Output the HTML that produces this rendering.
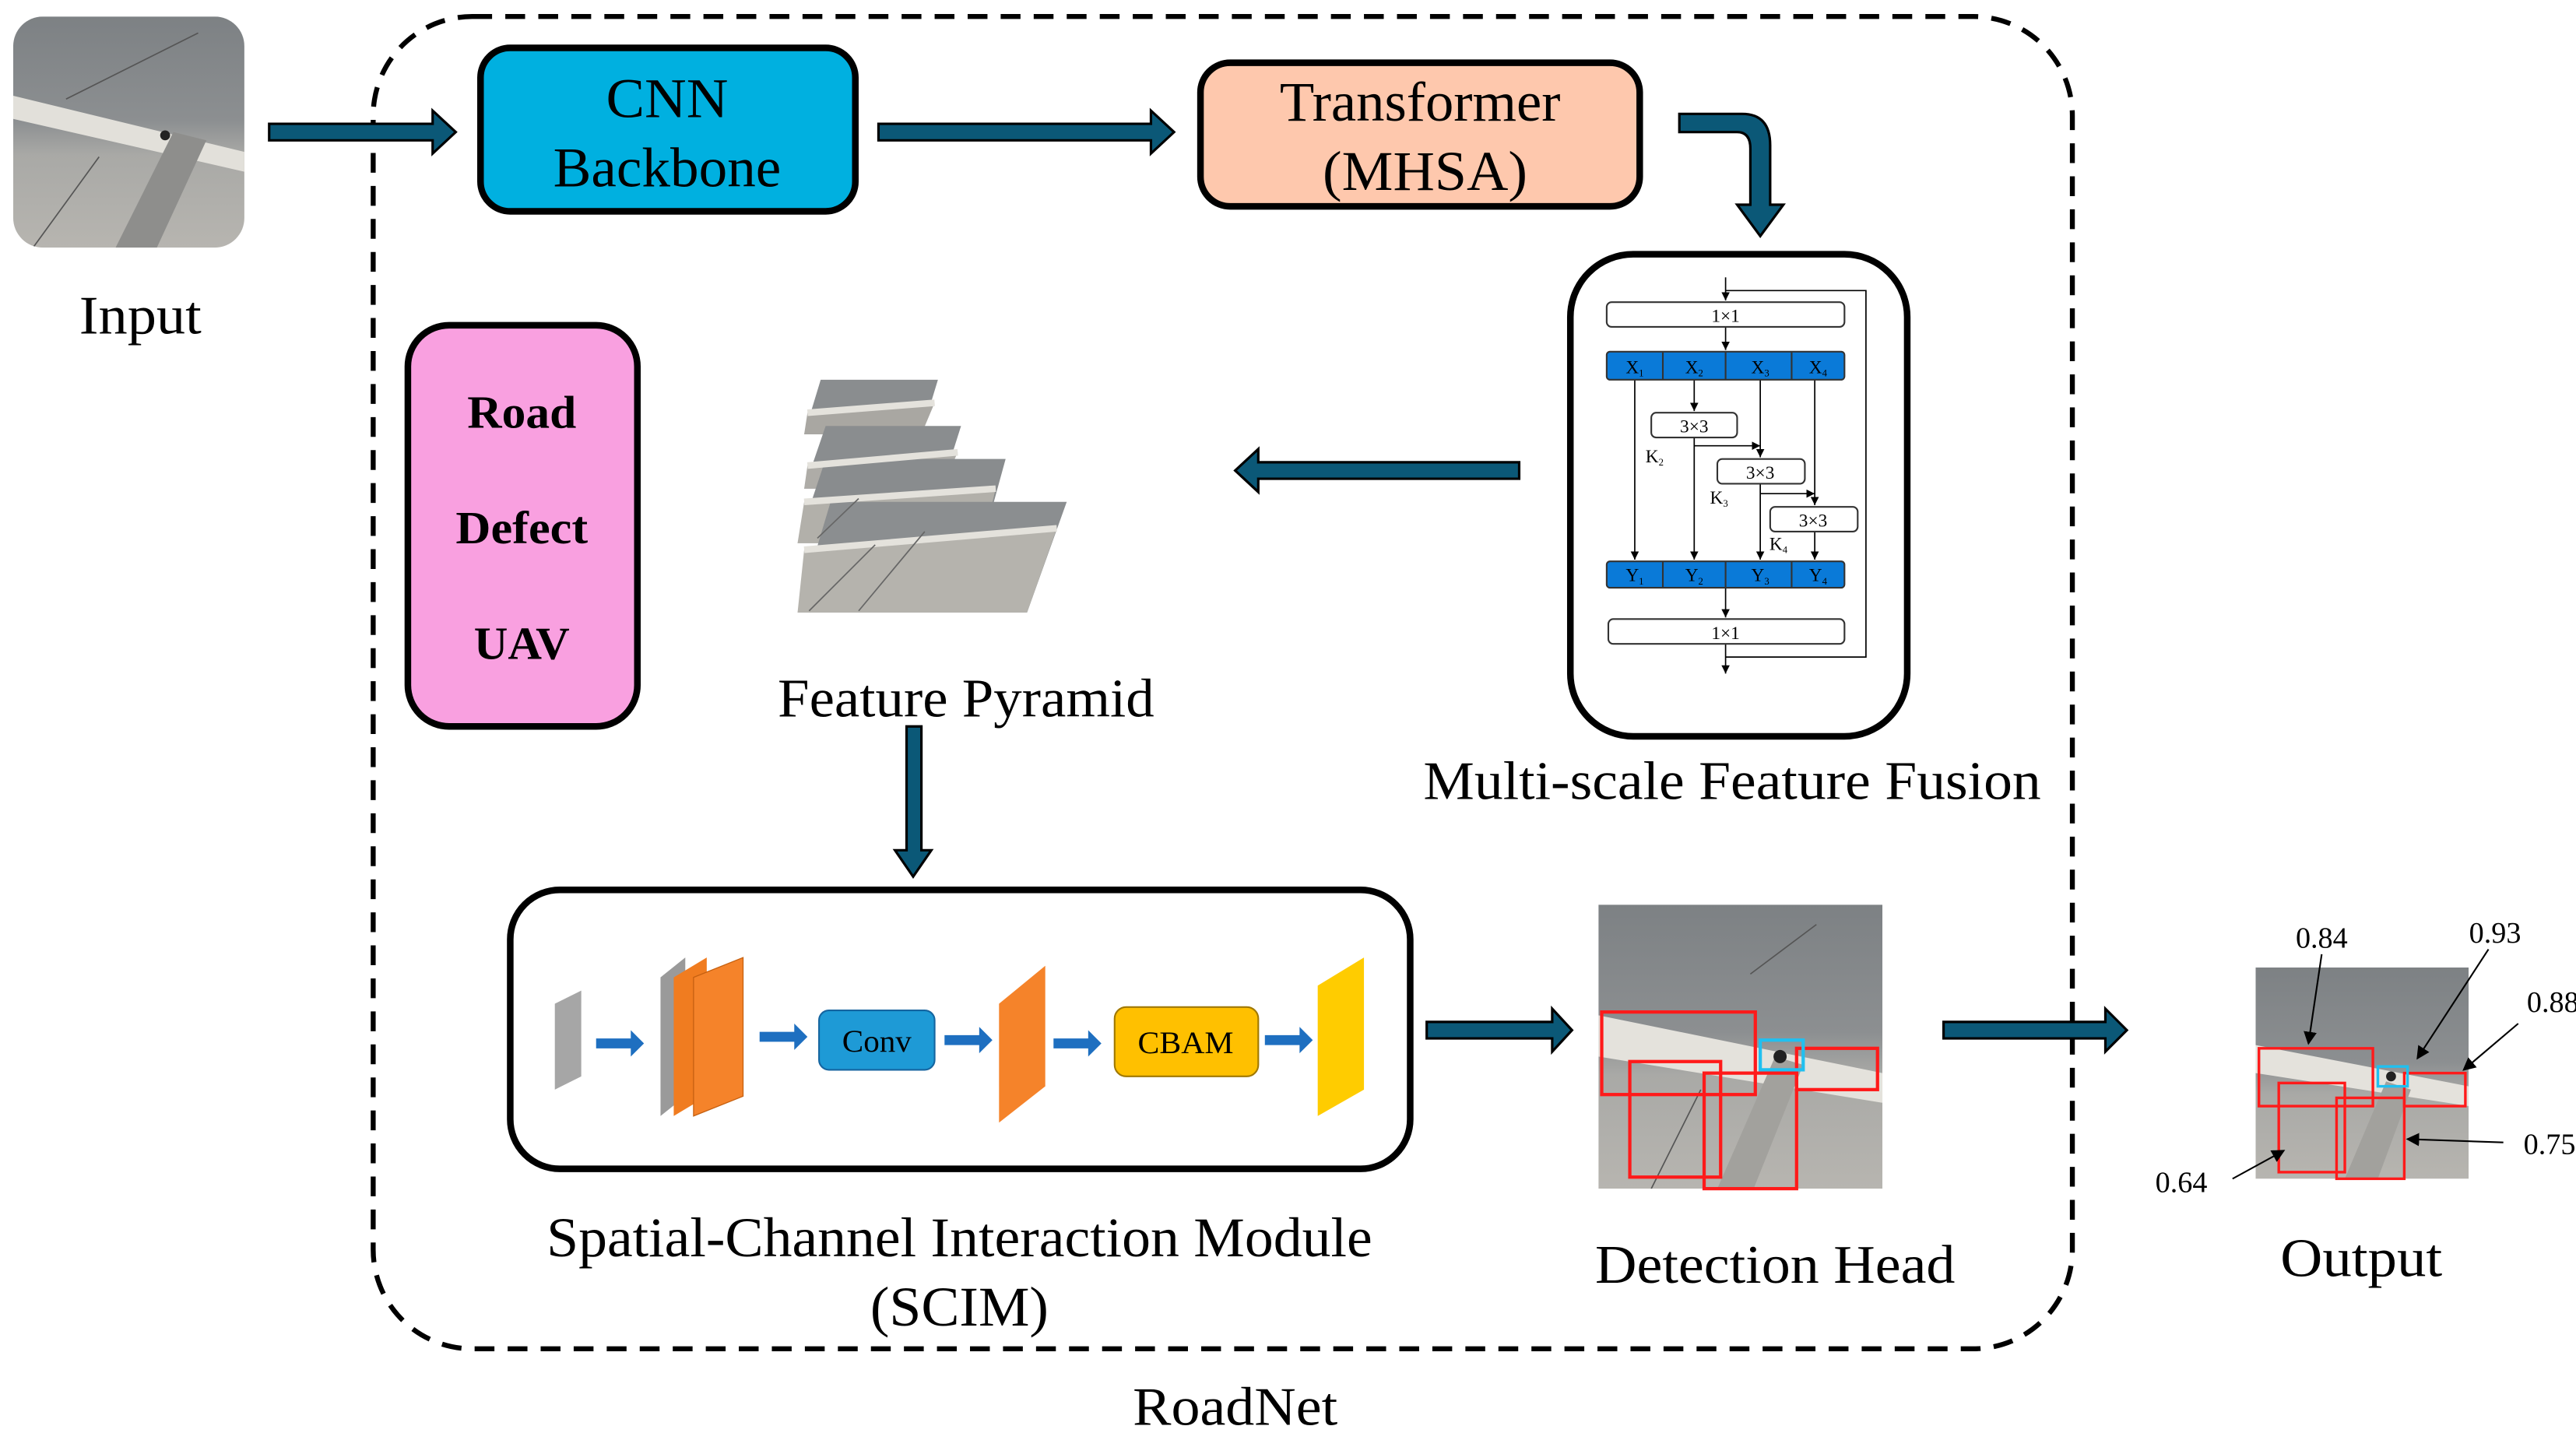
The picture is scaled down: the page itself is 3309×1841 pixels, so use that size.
<!DOCTYPE html>
<html><head><meta charset="utf-8"><style>
html,body{margin:0;padding:0;background:#fff;}
svg{display:block;}
text{font-family:"Liberation Serif",serif;fill:#000;}
</style></head><body>
<svg width="3309" height="1841" viewBox="0 0 1560 868" preserveAspectRatio="none" xmlns="http://www.w3.org/2000/svg">
<defs>
<linearGradient id="road" x1="0" y1="0" x2="0" y2="1">
<stop offset="0" stop-color="#7d8184"/><stop offset="0.45" stop-color="#8c8f91"/><stop offset="0.6" stop-color="#a9a9a6"/><stop offset="1" stop-color="#b7b5b0"/>
</linearGradient>
<clipPath id="cin"><rect x="8" y="10" width="140" height="140" rx="18"/></clipPath>
<clipPath id="cdet"><rect x="968" y="548" width="172" height="172"/></clipPath>
<clipPath id="cout"><rect x="1366" y="586" width="129" height="128"/></clipPath>
<marker id="ah" markerWidth="8" markerHeight="8" refX="7" refY="4" orient="auto" markerUnits="userSpaceOnUse"><path d="M0,0 L8,4 L0,8 z" fill="#000"/></marker>
<marker id="sa" markerWidth="5" markerHeight="5" refX="5" refY="2.5" orient="auto" markerUnits="userSpaceOnUse"><path d="M0,0 L5,2.5 L0,5 z" fill="#000"/></marker>
</defs>

<rect x="226" y="10" width="1029" height="807" rx="60" fill="none" stroke="#000" stroke-width="3" stroke-dasharray="12 8"/>

<g clip-path="url(#cin)">
<rect x="8" y="10" width="140" height="140" fill="url(#road)"/>
<polygon points="8,58 148,92 148,104 8,72" fill="#e2e0da"/>
<polygon points="70,150 105,80 125,85 95,150" fill="#8e8e8c"/>
<path d="M20,150 L60,95 M40,60 L120,20" stroke="#555" stroke-width="0.8" fill="none"/>
<circle cx="100" cy="82" r="3" fill="#222"/>
</g>
<text x="85" y="202" font-size="33" text-anchor="middle" textLength="74" lengthAdjust="spacingAndGlyphs">Input</text>

<g fill="#0b5877" stroke="#000" stroke-width="1.5">
<polygon points="163,75 262,75 262,67 276,80 262,93 262,85 163,85"/>
<polygon points="532,75 697,75 697,67 711,80 697,93 697,85 532,85"/>
<path d="M1017,69 L1055,69 Q1072,69 1072,88 L1072,124 L1080,124 L1066,143 L1052,124 L1060,124 L1060,90 Q1060,80 1052,80 L1017,80 z"/>
<polygon points="920,280 762,280 762,272 748,285 762,298 762,290 920,290"/>
<polygon points="549,440 558,440 558,515 564,515 553,531 542,515 549,515"/>
<polygon points="864,619 940,619 940,611 952,624 940,637 940,629 864,629"/>
<polygon points="1177,619 1275,619 1275,611 1288,624 1275,637 1275,629 1177,629"/>
</g>

<rect x="291" y="29" width="227" height="99" rx="18" fill="#00b0e0" stroke="#000" stroke-width="4"/>
<text x="404" y="71" font-size="34" text-anchor="middle" textLength="74" lengthAdjust="spacingAndGlyphs">CNN</text>
<text x="404" y="113" font-size="34" text-anchor="middle" textLength="138" lengthAdjust="spacingAndGlyphs">Backbone</text>

<rect x="727" y="38" width="266" height="87" rx="18" fill="#fec8ad" stroke="#000" stroke-width="4"/>
<text x="860" y="73" font-size="34" text-anchor="middle" textLength="170" lengthAdjust="spacingAndGlyphs">Transformer</text>
<text x="863" y="115" font-size="34" text-anchor="middle" textLength="124" lengthAdjust="spacingAndGlyphs">(MHSA)</text>

<rect x="951" y="154" width="204" height="292" rx="38" fill="#fff" stroke="#000" stroke-width="4"/>
<g stroke="#000" stroke-width="0.8" fill="none">
<path d="M1045,168 L1045,182" marker-end="url(#sa)"/>
<path d="M1045,176 L1130,176 L1130,398 L1045,398"/>
<path d="M1045,198 L1045,212" marker-end="url(#sa)"/>
<path d="M990,230 L990,339" marker-end="url(#sa)"/>
<path d="M1026,230 L1026,249" marker-end="url(#sa)"/>
<path d="M1026,265 L1026,339" marker-end="url(#sa)"/>
<path d="M1026,270 L1066,270" marker-end="url(#sa)"/>
<path d="M1066,230 L1066,277" marker-end="url(#sa)"/>
<path d="M1066,293 L1066,339" marker-end="url(#sa)"/>
<path d="M1066,299 L1099,299" marker-end="url(#sa)"/>
<path d="M1099,230 L1099,306" marker-end="url(#sa)"/>
<path d="M1099,322 L1099,339" marker-end="url(#sa)"/>
<path d="M1045,356 L1045,374" marker-end="url(#sa)"/>
<path d="M1045,390 L1045,408" marker-end="url(#sa)"/>
</g>
<g stroke="#333" stroke-width="1">
<rect x="973" y="183" width="144" height="15" rx="3" fill="#fff"/>
<rect x="973" y="213" width="144" height="17" rx="2" fill="#0a7ad8"/>
<rect x="1000" y="250" width="52" height="15" rx="3" fill="#fff"/>
<rect x="1040" y="278" width="53" height="15" rx="3" fill="#fff"/>
<rect x="1072" y="307" width="53" height="15" rx="3" fill="#fff"/>
<rect x="973" y="340" width="144" height="16" rx="2" fill="#0a7ad8"/>
<rect x="974" y="375" width="143" height="15" rx="3" fill="#fff"/>
<path d="M1007,213 V230 M1045,213 V230 M1085,213 V230 M1007,340 V356 M1045,340 V356 M1085,340 V356" fill="none"/>
</g>
<g font-size="11" text-anchor="middle">
<text x="1045" y="195">1×1</text>
<text x="990" y="226">X<tspan font-size="6" dy="2">1</tspan></text>
<text x="1026" y="226">X<tspan font-size="6" dy="2">2</tspan></text>
<text x="1066" y="226">X<tspan font-size="6" dy="2">3</tspan></text>
<text x="1101" y="226">X<tspan font-size="6" dy="2">4</tspan></text>
<text x="1026" y="262">3×3</text>
<text x="1066" y="290">3×3</text>
<text x="1098" y="319">3×3</text>
<text x="1002" y="280">K<tspan font-size="6" dy="2">2</tspan></text>
<text x="1041" y="305">K<tspan font-size="6" dy="2">3</tspan></text>
<text x="1077" y="333">K<tspan font-size="6" dy="2">4</tspan></text>
<text x="990" y="352">Y<tspan font-size="6" dy="2">1</tspan></text>
<text x="1026" y="352">Y<tspan font-size="6" dy="2">2</tspan></text>
<text x="1066" y="352">Y<tspan font-size="6" dy="2">3</tspan></text>
<text x="1101" y="352">Y<tspan font-size="6" dy="2">4</tspan></text>
<text x="1045" y="387">1×1</text>
</g>
<text x="1049" y="484" font-size="33" text-anchor="middle" textLength="374" lengthAdjust="spacingAndGlyphs">Multi-scale  Feature Fusion</text>

<rect x="247" y="197" width="139" height="243" rx="25" fill="#f9a0e0" stroke="#000" stroke-width="4"/>
<g font-size="28" font-weight="bold" text-anchor="middle">
<text x="316" y="259" textLength="66" lengthAdjust="spacingAndGlyphs">Road</text>
<text x="316" y="329" textLength="80" lengthAdjust="spacingAndGlyphs">Defect</text>
<text x="316" y="399" textLength="58" lengthAdjust="spacingAndGlyphs">UAV</text>
</g>

<g stroke="none">
<polygon points="497,230 568,230 558,263 487,263" fill="#8a8d8f"/>
<polygon points="489,250 566,244 558,263 487,263" fill="#a9a7a2"/>
<polygon points="500,258 582,258 570,296 487,296" fill="#8a8d8f"/>
<polygon points="489,282 580,274 570,296 487,296" fill="#aeaca7"/>
<polygon points="500,278 609,278 595,329 483,329" fill="#898c8e"/>
<polygon points="487,304 603,296 595,329 483,329" fill="#b2b0aa"/>
<polygon points="503,304 646,304 622,371 483,371" fill="#8b8e90"/>
<polygon points="487,333 640,320 622,371 483,371" fill="#b5b3ad"/>
<path d="M489,250 L566,244 M489,282 L580,274 M487,304 L603,296 M487,333 L640,320" stroke="#e4e2dc" stroke-width="4"/>
<path d="M490,370 L530,330 M520,370 L560,322 M495,326 L520,302" stroke="#666" stroke-width="0.8"/>
</g>
<text x="585" y="434" font-size="33" text-anchor="middle" textLength="228" lengthAdjust="spacingAndGlyphs">Feature Pyramid</text>

<rect x="309" y="539" width="545" height="169" rx="30" fill="#fff" stroke="#000" stroke-width="4"/>
<polygon points="336,608 352,600 352,652 336,660" fill="#a6a6a6"/>
<polygon points="400,592 415,580 415,664 400,676" fill="#9a9a9a"/>
<polygon points="408,592 428,580 428,664 408,676" fill="#f07c20"/>
<polygon points="420,592 450,580 450,664 420,676" fill="#f5832a" stroke="#c56010" stroke-width="0.6"/>
<polygon points="605,608 633,585 633,658 605,680" fill="#f5832a"/>
<polygon points="798,597 826,580 826,660 798,676" fill="#ffcc00"/>
<g fill="#1e6fc0">
<polygon points="361,629 382,629 382,624 390,632 382,640 382,635 361,635"/>
<polygon points="460,625 481,625 481,620 489,628 481,636 481,631 460,631"/>
<polygon points="572,627 593,627 593,622 601,630 593,638 593,633 572,633"/>
<polygon points="638,629 659,629 659,624 667,632 659,640 659,635 638,635"/>
<polygon points="766,627 787,627 787,622 795,630 787,638 787,633 766,633"/>
</g>
<rect x="496" y="612" width="70" height="36" rx="6" fill="#1e9ad6" stroke="#1565a0" stroke-width="1"/>
<text x="531" y="637" font-size="19" text-anchor="middle" textLength="42" lengthAdjust="spacingAndGlyphs">Conv</text>
<rect x="675" y="610" width="87" height="42" rx="7" fill="#ffc000" stroke="#a07800" stroke-width="1"/>
<text x="718" y="638" font-size="19" text-anchor="middle" textLength="58" lengthAdjust="spacingAndGlyphs">CBAM</text>
<text x="581" y="761" font-size="34" text-anchor="middle" textLength="500" lengthAdjust="spacingAndGlyphs">Spatial-Channel  Interaction Module</text>
<text x="581" y="803" font-size="34" text-anchor="middle" textLength="108" lengthAdjust="spacingAndGlyphs">(SCIM)</text>

<g clip-path="url(#cdet)">
<rect x="968" y="548" width="172" height="172" fill="url(#road)"/>
<polygon points="968,615 1140,650 1140,668 968,640" fill="#e4e2dc"/>
<polygon points="1040,720 1075,640 1092,645 1062,720" fill="#a2a19d"/>
<circle cx="1078" cy="640" r="4" fill="#222"/>
<path d="M1000,720 L1030,660 M1060,590 L1100,560" stroke="#555" stroke-width="0.8"/>
</g>
<g fill="none" stroke="#ff1a1a" stroke-width="2">
<rect x="970" y="613" width="93" height="50"/>
<rect x="987" y="643" width="55" height="70"/>
<rect x="1032" y="650" width="56" height="70"/>
<rect x="1088" y="635" width="49" height="25"/>
</g>
<rect x="1066" y="630" width="26" height="18" fill="none" stroke="#20c0f0" stroke-width="2"/>
<text x="1075" y="777" font-size="33" text-anchor="middle" textLength="218" lengthAdjust="spacingAndGlyphs">Detection Head</text>

<g clip-path="url(#cout)">
<rect x="1366" y="586" width="129" height="128" fill="url(#road)"/>
<polygon points="1366,633 1495,658 1495,670 1366,650" fill="#e4e2dc"/>
<polygon points="1420,714 1445,655 1460,660 1440,714" fill="#a2a19d"/>
<circle cx="1448" cy="652" r="3" fill="#222"/>
</g>
<g fill="none" stroke="#ff1a1a" stroke-width="1.6">
<rect x="1368" y="635" width="69" height="35"/>
<rect x="1380" y="656" width="40" height="54"/>
<rect x="1415" y="665" width="41" height="49"/>
<rect x="1456" y="650" width="37" height="20"/>
</g>
<rect x="1440" y="646" width="18" height="12" fill="none" stroke="#20c0f0" stroke-width="1.6"/>
<g stroke="#000" stroke-width="1" fill="none">
<path d="M1406,578 L1398,632" marker-end="url(#ah)"/>
<path d="M1507,575 L1464,641" marker-end="url(#ah)"/>
<path d="M1525,620 L1492,648" marker-end="url(#ah)"/>
<path d="M1516,692 L1458,690" marker-end="url(#ah)"/>
<path d="M1352,714 L1383,697" marker-end="url(#ah)"/>
</g>
<g font-size="18" text-anchor="middle">
<text x="1406" y="574">0.84</text>
<text x="1511" y="571">0.93</text>
<text x="1546" y="613">0.88</text>
<text x="1544" y="699">0.75</text>
<text x="1321" y="722">0.64</text>
</g>
<text x="1430" y="773" font-size="33" text-anchor="middle" textLength="98" lengthAdjust="spacingAndGlyphs">Output</text>

<text x="748" y="863" font-size="33" text-anchor="middle" textLength="124" lengthAdjust="spacingAndGlyphs">RoadNet</text>
</svg>
</body></html>
